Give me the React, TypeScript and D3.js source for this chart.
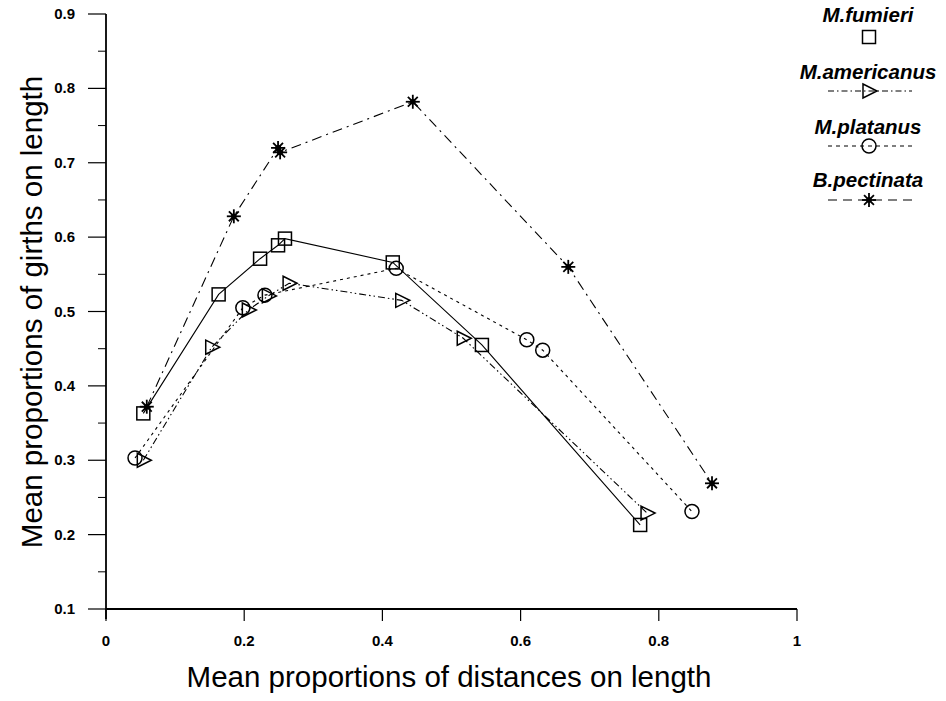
import React from "react";
import * as d3 from "d3";

const fumieriX = [0.054, 0.163, 0.223, 0.249, 0.259, 0.415, 0.544, 0.773];
const fumieriY = [0.363, 0.523, 0.571, 0.589, 0.598, 0.566, 0.455, 0.213];

const americanusX = [0.054, 0.153, 0.206, 0.235, 0.265, 0.428, 0.517, 0.783];
const americanusY = [0.300, 0.452, 0.502, 0.521, 0.538, 0.515, 0.464, 0.229];

const platanusX = [0.042, 0.198, 0.230, 0.420, 0.609, 0.632, 0.848];
const platanusY = [0.303, 0.505, 0.522, 0.558, 0.462, 0.448, 0.231];

const pectinataX = [0.059, 0.185, 0.249, 0.252, 0.444, 0.669, 0.877];
const pectinataY = [0.372, 0.628, 0.720, 0.714, 0.782, 0.560, 0.269];

const seriesNames = ["M.fumieri", "M.americanus", "M.platanus", "B.pectinata"];
const xTicks = [0, 0.2, 0.4, 0.6, 0.8, 1];
const xTickLabels = ["0", "0.2", "0.4", "0.6", "0.8", "1"];
const yTicks = [0.1, 0.2, 0.3, 0.4, 0.5, 0.6, 0.7, 0.8, 0.9];
const yMinorTicks = [0.15, 0.25, 0.35, 0.45, 0.55, 0.65, 0.75, 0.85];

const W = 946;
const H = 701;
const x = d3.scaleLinear().domain([0, 1]).range([106, 797]);
const y = d3.scaleLinear().domain([0.1, 0.9]).range([609, 14]);

type Shape = "square" | "triangle" | "circle" | "star";

function Marker({ cx, cy, shape }: { cx: number; cy: number; shape: Shape }) {
  const common = { fill: "none", stroke: "#000", strokeWidth: 1.5 };
  if (shape === "square") {
    return <rect x={cx - 6.5} y={cy - 6.5} width={13} height={13} {...common} />;
  }
  if (shape === "triangle") {
    const p = `M${cx - 6},${cy - 7} L${cx + 8},${cy} L${cx - 6},${cy + 7} Z`;
    return <path d={p} {...common} />;
  }
  if (shape === "circle") {
    return <circle cx={cx} cy={cy} r={7} {...common} />;
  }
  const r = 7;
  const arms = [0, 45, 90, 135].map((a) => {
    const rad = (a * Math.PI) / 180;
    const dx = Math.cos(rad) * r;
    const dy = Math.sin(rad) * r;
    return <line key={a} x1={cx - dx} y1={cy - dy} x2={cx + dx} y2={cy + dy} stroke="#000" strokeWidth={1.8} />;
  });
  return (
    <g>
      {arms}
      <circle cx={cx} cy={cy} r={2.8} fill="#000" />
    </g>
  );
}

const series = [
  { name: seriesNames[0], xs: fumieriX, ys: fumieriY, shape: "square" as Shape, dash: "" },
  { name: seriesNames[1], xs: americanusX, ys: americanusY, shape: "triangle" as Shape, dash: "7,3,1.5,3,1.5,3" },
  { name: seriesNames[2], xs: platanusX, ys: platanusY, shape: "circle" as Shape, dash: "3,4" },
  { name: seriesNames[3], xs: pectinataX, ys: pectinataY, shape: "star" as Shape, dash: "10,5,2,5" },
];

const legendDash = ["", "6,3,1.5,3", "4,4", "9,6"];
const legendY = [15, 72, 127, 180];
const markerY = [37, 91, 146, 200];

export default function App() {
  const line = d3.line<[number, number]>().x((d) => x(d[0])).y((d) => y(d[1]));
  const font = "Liberation Sans, Arial, Helvetica, sans-serif";
  return (
    <svg width={W} height={H} style={{ position: "absolute", left: 0, top: 0, background: "#fff" }} fontFamily={font}>
      <rect width={W} height={H} fill="#fff" />
      {/* axes */}
      <line x1={x(0)} y1={y(0.1)} x2={x(1)} y2={y(0.1)} stroke="#000" strokeWidth={1.8} />
      <line x1={x(0)} y1={y(0.1) + 10} x2={x(0)} y2={y(0.9)} stroke="#000" strokeWidth={1.8} />
      {yTicks.map((t) => (
        <g key={"y" + t}>
          <line x1={x(0) - 18} x2={x(0)} y1={y(t)} y2={y(t)} stroke="#000" strokeWidth={1.2} />
          <text x={75} y={y(t) + 5} textAnchor="end" fontSize={15} fontWeight="bold">
            {t.toFixed(1)}
          </text>
        </g>
      ))}
      {yMinorTicks.map((t) => (
        <line key={"ym" + t} x1={x(0) - 8} x2={x(0)} y1={y(t)} y2={y(t)} stroke="#000" strokeWidth={1} />
      ))}
      {xTicks.map((t, i) => (
        <g key={"x" + t}>
          <line x1={x(t)} x2={x(t)} y1={y(0.1)} y2={y(0.1) + 12} stroke="#000" strokeWidth={1.2} />
          <text x={x(t)} y={646} textAnchor="middle" fontSize={15} fontWeight="bold">
            {xTickLabels[i]}
          </text>
        </g>
      ))}
      <text x={449} y={687} textAnchor="middle" fontSize={29.5}>
        Mean proportions of distances on length
      </text>
      <text transform="translate(42,312) rotate(-90)" textAnchor="middle" fontSize={29.5}>
        Mean proportions of girths on length
      </text>
      {/* series */}
      {series.map((s) => {
        const pts = s.xs.map((v, i) => [v, s.ys[i]] as [number, number]);
        return (
          <g key={s.name}>
            <path d={line(pts) || ""} fill="none" stroke="#000" strokeWidth={1.1} strokeDasharray={s.dash || undefined} />
            {pts.map((p, i) => (
              <Marker key={i} cx={x(p[0])} cy={y(p[1])} shape={s.shape} />
            ))}
          </g>
        );
      })}
      {/* legend */}
      {series.map((s, i) => (
        <g key={"lg" + s.name}>
          <text x={868} y={legendY[i] + 7} textAnchor="middle" fontSize={20.5} fontWeight="bold" fontStyle="italic">
            {s.name}
          </text>
          {i > 0 && (
            <line x1={828} x2={912} y1={markerY[i]} y2={markerY[i]} stroke="#000" strokeWidth={1.1} strokeDasharray={legendDash[i]} />
          )}
          <Marker cx={869} cy={markerY[i]} shape={s.shape} />
        </g>
      ))}
    </svg>
  );
}
